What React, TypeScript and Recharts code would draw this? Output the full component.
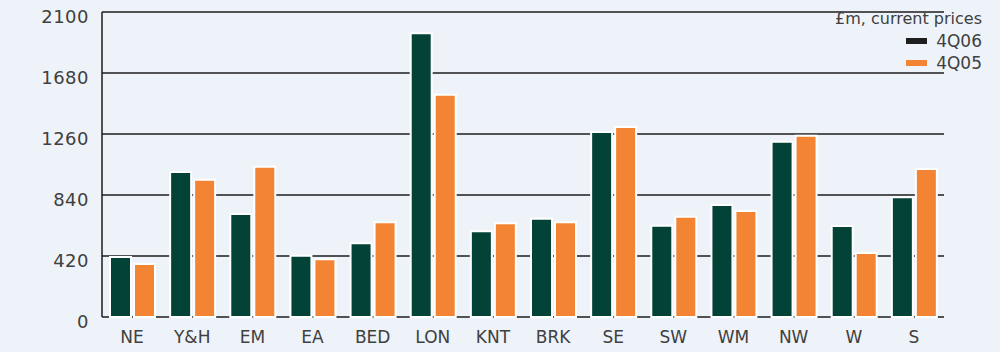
import { BarChart, Bar, XAxis, YAxis, CartesianGrid } from 'recharts';

const regions = ['NE', 'Y&H', 'EM', 'EA', 'BED', 'LON', 'KNT', 'BRK', 'SE', 'SW', 'WM', 'NW', 'W', 'S'];
const q406 = [413, 998, 709, 422, 507, 1953, 590, 677, 1274, 629, 771, 1207, 627, 824];
const q405 = [365, 945, 1035, 397, 652, 1531, 645, 652, 1308, 691, 730, 1248, 441, 1019];
const yTicks = [0, 420, 840, 1260, 1680, 2100];

const legendItems = [
    { label: '4Q06', color: '#1f1f1f' },
    { label: '4Q05', color: '#f28433' },
];

const data = regions.map((name, i) => ({ name, q406: q406[i], q405: q405[i] }));

const font = '"DejaVu Sans", sans-serif';

// legend sits over the plot, so keep it out of recharts' layout
function ChartLegend() {
    return (
        <div style={{ position: 'absolute', top: 8, right: 18, fontFamily: font, color: '#404040', textAlign: 'right', lineHeight: '22px' }}>
            <div style={{ fontSize: 16 }}>£m, current prices</div>
            {legendItems.map((item) => (
                <div key={item.label} style={{ fontSize: 17, display: 'flex', justifyContent: 'flex-end', alignItems: 'center' }}>
                    <span style={{ width: 21, height: 6, background: item.color, marginRight: 9, display: 'inline-block' }}></span>
                    <span>{item.label}</span>
                </div>
            ))}
        </div>
    );
}

export default function App() {
    return (
        <div style={{ position: 'absolute', left: 0, top: 0, width: 1000, height: 352, background: '#eef3fa' }}>
            <BarChart
                width={1000}
                height={352}
                data={data}
                margin={{ top: 12, right: 56, left: 0, bottom: 5 }}
                barSize={21}
                barGap={3}
            >
                <CartesianGrid vertical={false} stroke="#1c1c1c" strokeWidth={1.5} />
                <XAxis
                    dataKey="name"
                    axisLine={false}
                    tickLine={false}
                    height={30}
                    interval={0}
                    tick={{ fill: '#404040', fontSize: 17, fontFamily: font }}
                    dy={6}
                />
                <YAxis
                    width={102}
                    domain={[0, 2100]}
                    ticks={yTicks}
                    interval={0}
                    axisLine={{ stroke: '#1c1c1c', strokeWidth: 1.5 }}
                    tickLine={false}
                    tickMargin={7}
                    dy={5}
                    tick={{ fill: '#404040', fontSize: 18, fontFamily: font, letterSpacing: 0.5 }}
                />
                <Bar dataKey="q406" fill="#034236" stroke="#ffffff" strokeWidth={2} isAnimationActive={false} />
                <Bar dataKey="q405" fill="#f28433" stroke="#ffffff" strokeWidth={2} isAnimationActive={false} />
            </BarChart>
            <ChartLegend />
        </div>
    );
}
